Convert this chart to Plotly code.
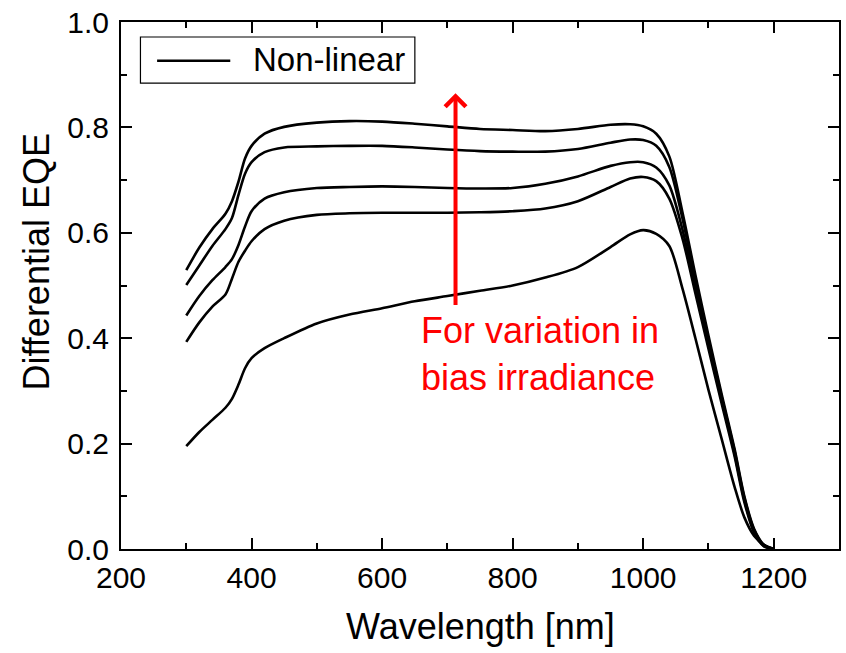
import plotly.graph_objects as go

# ---- data ----
wavelength = [300, 320, 340, 360, 370, 380, 390, 400, 420, 450, 500, 550, 600, 650, 700,
              750, 800, 850, 900, 950, 980, 1000, 1020, 1040, 1060, 1080, 1100, 1120,
              1140, 1155, 1170, 1185, 1200]

eqe_1 = [0.529, 0.572, 0.607, 0.636, 0.660, 0.697, 0.741, 0.765, 0.788, 0.801, 0.809, 0.812,
         0.811, 0.807, 0.802, 0.797, 0.795, 0.793, 0.797, 0.805, 0.806, 0.802, 0.788, 0.745,
         0.640, 0.520, 0.405, 0.295, 0.190, 0.100, 0.038, 0.008, 0.0]
eqe_2 = [0.501, 0.538, 0.575, 0.607, 0.628, 0.672, 0.712, 0.734, 0.753, 0.762, 0.764, 0.765,
         0.765, 0.762, 0.758, 0.755, 0.754, 0.754, 0.759, 0.771, 0.777, 0.776, 0.765, 0.725,
         0.628, 0.510, 0.398, 0.290, 0.186, 0.097, 0.036, 0.007, 0.0]
eqe_3 = [0.443, 0.480, 0.510, 0.535, 0.550, 0.577, 0.612, 0.641, 0.665, 0.677, 0.685, 0.687,
         0.688, 0.687, 0.685, 0.684, 0.685, 0.693, 0.707, 0.727, 0.734, 0.734, 0.724, 0.690,
         0.607, 0.497, 0.390, 0.284, 0.181, 0.093, 0.033, 0.006, 0.0]
eqe_4 = [0.393, 0.430, 0.460, 0.483, 0.513, 0.545, 0.566, 0.584, 0.607, 0.623, 0.634, 0.637,
         0.638, 0.638, 0.638, 0.639, 0.641, 0.646, 0.660, 0.687, 0.703, 0.706, 0.698, 0.665,
         0.590, 0.485, 0.380, 0.277, 0.176, 0.089, 0.031, 0.005, 0.0]
eqe_5 = [0.195, 0.222, 0.245, 0.268, 0.285, 0.312, 0.343, 0.362, 0.381, 0.400, 0.428, 0.445,
         0.457, 0.470, 0.480, 0.490, 0.500, 0.515, 0.535, 0.573, 0.597, 0.605, 0.598, 0.575,
         0.495, 0.400, 0.302, 0.210, 0.118, 0.060, 0.025, 0.008, 0.0]

series = [eqe_1, eqe_2, eqe_3, eqe_4, eqe_5]
legend_label = "Non-linear"
annotation_text = "For variation in<br>bias irradiance"
x_ticks = [200, 400, 600, 800, 1000, 1200]
y_ticks = [0.0, 0.2, 0.4, 0.6, 0.8, 1.0]
y_tick_text = ["0.0", "0.2", "0.4", "0.6", "0.8", "1.0"]

FONT = "Liberation Sans, Arial, sans-serif"

fig = go.Figure()
for i, s in enumerate(series):
    fig.add_trace(go.Scatter(
        x=wavelength, y=s, mode="lines",
        line=dict(color="black", width=2.6, shape="spline", smoothing=0.8),
        name=legend_label, showlegend=False, hoverinfo="skip"))

axis_common = dict(
    showline=True, linecolor="black", linewidth=2, mirror="allticks",
    ticks="inside", ticklen=11, tickwidth=2, tickcolor="black",
    showgrid=False, zeroline=False,
    tickfont=dict(family=FONT, size=30, color="black"),
)

fig.update_xaxes(range=[200, 1300], tickvals=x_ticks,
                 minor=dict(ticks="inside", ticklen=6, tickwidth=2, tickcolor="black",
                            dtick=100, showgrid=False),
                 ticklabelstandoff=1, **axis_common)
fig.update_yaxes(range=[0, 1], tickvals=y_ticks, ticktext=y_tick_text,
                 minor=dict(ticks="inside", ticklen=6, tickwidth=2, tickcolor="black",
                            dtick=0.1, showgrid=False),
                 ticklabelstandoff=4, **axis_common)

# custom legend (box, line sample, text)
fig.add_shape(type="rect", xref="x", yref="y", x0=229.8, x1=650.2, y0=0.884, y1=0.9715,
              line=dict(color="black", width=1.2), fillcolor="white", layer="above")
fig.add_shape(type="line", xref="x", yref="y", x0=255.3, x1=367.4, y0=0.9265, y1=0.9265,
              line=dict(color="black", width=2.6), layer="above")
fig.add_annotation(xref="x", yref="y", x=399, y=0.928, text=legend_label, showarrow=False,
                   xanchor="left", yanchor="middle",
                   font=dict(family=FONT, size=33, color="black"))

# red arrow
fig.add_annotation(xref="x", yref="y", axref="x", ayref="y",
                   x=712.5, y=0.865, ax=712.5, ay=0.46, text="", showarrow=True,
                   arrowhead=4, arrowsize=1.0, arrowwidth=4, arrowcolor="red")
fig.add_annotation(xref="x", yref="y", x=656.4, y=0.37, text=annotation_text,
                   showarrow=False, xanchor="left", yanchor="middle", align="left",
                   font=dict(family=FONT, size=36, color="red"))

# axis titles
fig.add_annotation(xref="paper", yref="paper", x=0.5, y=-0.148, text="Wavelength [nm]",
                   showarrow=False, xanchor="center", yanchor="middle",
                   font=dict(family=FONT, size=36, color="black"))
fig.add_annotation(xref="paper", yref="paper", x=-0.1174, y=0.545, text="Differential EQE",
                   showarrow=False, textangle=-90, xanchor="center", yanchor="middle",
                   font=dict(family=FONT, size=36, color="black"))

fig.update_layout(width=846, height=653, margin=dict(l=121, r=5, t=22, b=104),
                  paper_bgcolor="white", plot_bgcolor="white", showlegend=False)

fig.write_html("out.html")
